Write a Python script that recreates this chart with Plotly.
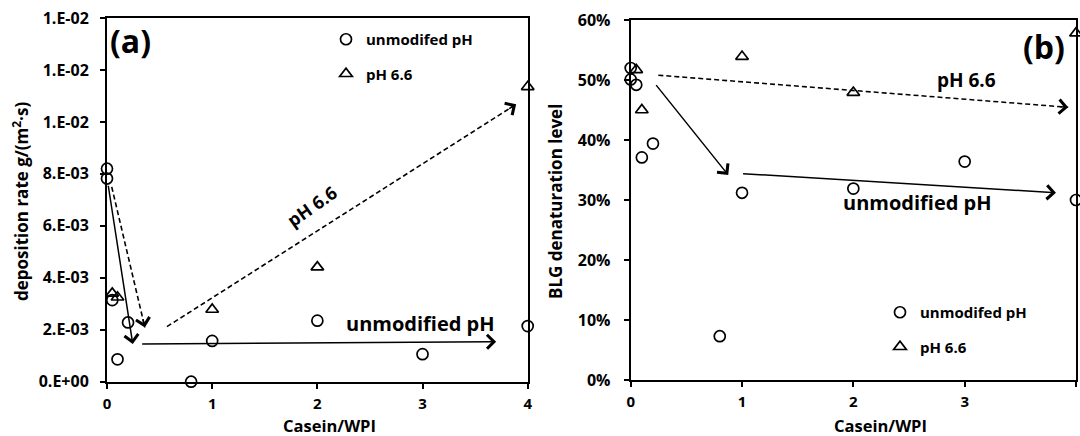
import plotly.graph_objects as go

W, H = 1080, 436
FONT = "Open Sans"

# ---------------- data: panel (a) deposition rate ----------------
a_unmod_x = [0, 0, 0.05, 0.1, 0.2, 0.8, 1, 2, 3, 4]
a_unmod_y = [8.2e-3, 7.82e-3, 3.14e-3, 0.86e-3, 2.28e-3, 0.0, 1.57e-3, 2.35e-3, 1.06e-3, 2.14e-3]
a_ph_x = [0.05, 0.1, 1, 2, 4]
a_ph_y = [3.40e-3, 3.25e-3, 2.78e-3, 4.41e-3, 11.35e-3]
a_ytickvals = [0, 2e-3, 4e-3, 6e-3, 8e-3, 10e-3, 12e-3, 14e-3]
a_yticktext = ["0.E+00", "2.E-03", "4.E-03", "6.E-03", "8.E-03", "1.E-02", "1.E-02", "1.E-02"]

# ---------------- data: panel (b) BLG denaturation ----------------
b_unmod_x = [0, 0, 0.05, 0.1, 0.2, 0.8, 1, 2, 3, 4]
b_unmod_y = [0.520, 0.501, 0.492, 0.371, 0.394, 0.073, 0.312, 0.319, 0.364, 0.300]
b_ph_x = [0.05, 0.1, 1, 2, 4]
b_ph_y = [0.517, 0.450, 0.539, 0.479, 0.578]
b_ytickvals = [0, 0.1, 0.2, 0.3, 0.4, 0.5, 0.6]
b_yticktext = ["0%", "10%", "20%", "30%", "40%", "50%", "60%"]

x_tickvals = [0, 1, 2, 3, 4]
x_ticktext = ["0", "1", "2", "3", "4"]

# trend arrows (start x, start y, end x, end y, dashed)
a_arrows = [
    (0.01, 7.60e-3, 0.245, 1.45e-3, False),
    (0.045, 7.50e-3, 0.36, 2.09e-3, True),
    (0.57, 2.12e-3, 3.89, 10.68e-3, True),
    (0.32, 1.45e-3, 3.70, 1.54e-3, False),
]
b_arrows = [
    (0.248, 0.508, 3.93, 0.4545, True),
    (0.218, 0.494, 0.876, 0.3417, False),
    (0.996, 0.344, 3.82, 0.312, False),
]

# ---------------- layout geometry (pixels) ----------------
A_L, A_R, A_T, A_B = 107, 527.7, 18, 381.7
B_L, B_R, B_T, B_B = 630.7, 1076, 20, 380


def px(x, y):
    return x / W, 1 - y / H


fig = go.Figure()

mk = dict(size=11, color="black", line=dict(color="black", width=1.7))

fig.add_trace(go.Scatter(x=a_unmod_x, y=a_unmod_y, mode="markers", name="unmodifed pH",
                         marker=dict(symbol="circle-open", **mk), xaxis="x", yaxis="y",
                         cliponaxis=False, legend="legend", legendgroup="a1"))
fig.add_trace(go.Scatter(x=a_ph_x, y=a_ph_y, mode="markers", name="pH 6.6",
                         marker=dict(symbol="triangle-up-open", **mk), xaxis="x", yaxis="y",
                         cliponaxis=False, legend="legend", legendgroup="a2"))
fig.add_trace(go.Scatter(x=b_unmod_x, y=b_unmod_y, mode="markers", name="unmodifed pH",
                         marker=dict(symbol="circle-open", **mk), xaxis="x2", yaxis="y2",
                         cliponaxis=False, legend="legend2", legendgroup="b1"))
fig.add_trace(go.Scatter(x=b_ph_x, y=b_ph_y, mode="markers", name="pH 6.6",
                         marker=dict(symbol="triangle-up-open", **mk), xaxis="x2", yaxis="y2",
                         cliponaxis=False, legend="legend2", legendgroup="b2"))

annotations = []
shapes = []


def add_arrows(arrows, xr, yr, sx, sy):
    for (x0, y0, x1, y1, dashed) in arrows:
        if dashed:
            shapes.append(dict(type="line", xref=xr, yref=yr, x0=x0, y0=y0, x1=x1, y1=y1,
                               line=dict(color="black", width=1.6, dash="5px,3px")))
            # short tail so only the arrowhead shows
            lpx = ((x1 - x0) * sx) ** 2 + ((y1 - y0) * sy) ** 2
            f = 10 / (lpx ** 0.5)
            tx, ty = x1 - f * (x1 - x0), y1 - f * (y1 - y0)
        else:
            tx, ty = x0, y0
        annotations.append(dict(x=x1, y=y1, ax=tx, ay=ty, xref=xr, yref=yr,
                                axref=xr, ayref=yr, text="", showarrow=True,
                                arrowhead=4, arrowsize=1.8, arrowwidth=1.5,
                                arrowcolor="black"))


add_arrows(a_arrows, "x", "y", (A_R - A_L) / 4, (A_B - A_T) / 0.014)
add_arrows(b_arrows, "x2", "y2", (B_R - B_L) / 4, (B_B - B_T) / 0.6)


def text(t, x, y, size, angle=0):
    xx, yy = px(x, y)
    annotations.append(dict(text=t, x=xx, y=yy, xref="paper", yref="paper",
                            xanchor="center", yanchor="middle", showarrow=False,
                            textangle=angle,
                            font=dict(family=FONT, size=size, color="black", weight="bold")))


text("(a)", 130, 40, 32)
text("(b)", 1044, 47, 32)
text("pH 6.6", 312, 206, 18, -35)
text("unmodified pH", 420, 323, 20)
text("pH 6.6", 966, 80, 19)
text("unmodified pH", 917, 202, 20)
text("Casein/WPI", 329.5, 425, 16.5)
text("Casein/WPI", 880, 425, 16.5)
text("deposition rate g/(m<sup>2</sup>·s)", 20, 202, 17, -90)
text("BLG denaturation level", 555, 202, 17, -90)

axis_common = dict(showline=True, linecolor="black", linewidth=2, mirror=True,
                   ticks="outside", ticklen=5, tickwidth=2, tickcolor="black",
                   showgrid=False, zeroline=False, automargin=False)
yfont = dict(family=FONT, size=16, color="black", weight="bold")
xfont = dict(family=FONT, size=15, color="black", weight="bold")

fig.update_layout(
    width=W, height=H,
    margin=dict(l=0, r=0, t=0, b=0, autoexpand=False),
    paper_bgcolor="white", plot_bgcolor="white",
    font=dict(family=FONT, color="black"),
    xaxis=dict(domain=[A_L / W, A_R / W], range=[0, 4], tickvals=x_tickvals,
               ticktext=x_ticktext, anchor="y", ticklabelstandoff=2, tickfont=xfont,
               **axis_common),
    yaxis=dict(domain=[1 - A_B / H, 1 - A_T / H], range=[0, 0.014], tickvals=a_ytickvals,
               ticktext=a_yticktext, anchor="x", ticklabelstandoff=8, tickfont=yfont,
               **axis_common),
    xaxis2=dict(domain=[B_L / W, B_R / W], range=[0, 4], tickvals=x_tickvals,
                ticktext=x_ticktext, anchor="y2", ticklabelstandoff=2, tickfont=xfont,
                **axis_common),
    yaxis2=dict(domain=[1 - B_B / H, 1 - B_T / H], range=[0, 0.6], tickvals=b_ytickvals,
                ticktext=b_yticktext, anchor="x2", ticklabelstandoff=10, tickfont=yfont,
                **axis_common),
    showlegend=True,
    legend=dict(x=326 / W, y=1 - 23 / H, xanchor="left", yanchor="top",
                bgcolor="rgba(0,0,0,0)", tracegroupgap=12, traceorder="grouped",
                font=dict(family=FONT, size=15, color="black", weight="bold")),
    legend2=dict(x=880 / W, y=1 - 296 / H, xanchor="left", yanchor="top",
                 bgcolor="rgba(0,0,0,0)", tracegroupgap=12, traceorder="grouped",
                 font=dict(family=FONT, size=15, color="black", weight="bold")),
    annotations=annotations,
    shapes=shapes,
)

fig.write_html("out.html", config={"displayModeBar": False},
               post_script="document.body.style.margin='0px';")
